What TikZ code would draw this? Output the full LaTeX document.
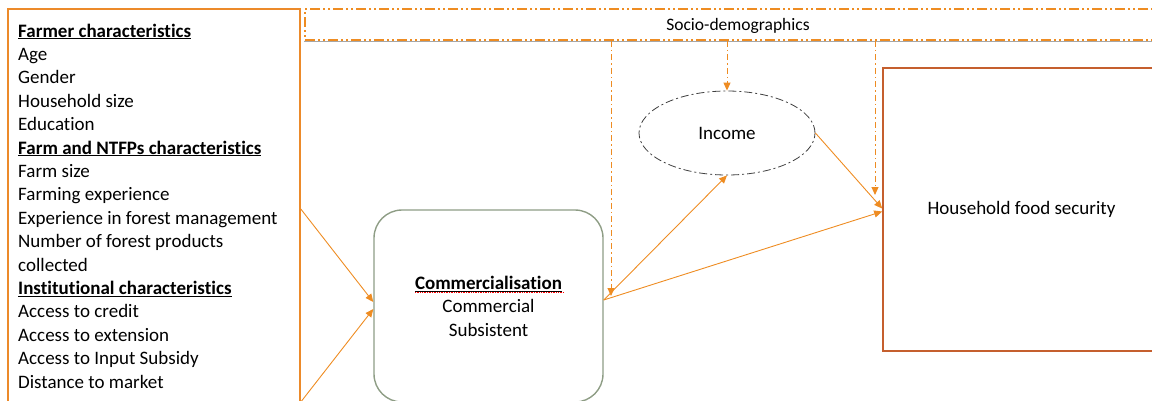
\documentclass[tikz,border=0pt]{standalone}
\usepackage{fontspec}
\setmainfont{Carlito}[Ligatures=NoCommon]
\usetikzlibrary{arrows.meta,shapes.geometric}
\definecolor{lineorange}{HTML}{EE8C22}
\definecolor{boxorange}{HTML}{EC8A2A}
\definecolor{rustred}{HTML}{C55F2E}
\definecolor{sagegray}{HTML}{8E9D85}
\definecolor{inkgray}{HTML}{404040}

\begin{document}
\begin{tikzpicture}[x=1pt, y=-1pt,
    every node/.style={font=\fontsize{19}{23.4}\selectfont, inner sep=0pt},
    link/.style={draw=lineorange, line width=0.9pt, -{Triangle[length=8pt,width=7pt]}},
    moderate/.style={draw=lineorange, line width=1pt, dash pattern=on 6pt off 3pt on 1.5pt off 3pt, -{Triangle[length=8pt,width=7pt]}}]
        \useasboundingbox (0,0) rectangle (1152,400);
        \clip (0,0) rectangle (1152,400);
        \node[draw=boxorange, line width=1.6pt, minimum width=292pt, minimum height=400pt] (farm) at (154,209) {};
        \node[anchor=north west, align=left] (farmlist) at (18,23.5) {\textbf{\underline{Farmer characteristics}}\\Age\\Gender\\Household size\\Education\\\textbf{\underline{Farm and NTFPs characteristics}}\\Farm size\\Farming experience\\Experience in forest management\\Number of forest products\\collected\\\textbf{\underline{Institutional characteristics}}\\Access to credit\\Access to extension\\Access to Input Subsidy\\Distance to market};
        \node[draw=lineorange, line width=1.8pt, dash pattern=on 10pt off 3pt on 2pt off 3pt on 2pt off 3pt, minimum width=866pt, minimum height=31pt, text depth=-2pt, font=\fontsize{17.5}{21}\selectfont] (socio) at (738,24.5) {Socio-demographics};
        \draw[gray!70, line width=0.6pt] (socio.south west) -- (socio.south east);
        \node[draw=sagegray, line width=1.4pt, rounded corners=28pt, minimum width=229pt, minimum height=192pt, align=center] (comm) at (488.5,306) {\textbf{\underline{Commercialisation}}\\Commercial\\Subsistent};
        \draw[red, densely dotted, line width=0.7pt] (415,292) -- (563,292);
        \node[ellipse, draw=inkgray, line width=0.8pt, dash pattern=on 8pt off 3pt on 2pt off 3pt, minimum width=176pt, minimum height=84pt] (inc) at (727,133) {Income};
        \node[draw=rustred, line width=1.6pt, minimum width=277pt, minimum height=283pt] (hfs) at (1021.5,209.5) {\raisebox{-2pt}{Household food security}};

        \coordinate (farmlow) at (300,403);
        \coordinate (cdrop) at (611,296);
        \coordinate (hdrop) at (875,195);

        \draw[link] (farm.east) -- ([yshift=4pt]comm.west);
        \draw[link] (farmlow) -- ([yshift=-3pt]comm.west);
        \draw[link] ([yshift=6pt]comm.east) -- (inc.south);
        \draw[link] ([yshift=6pt]comm.east) -- ([yshift=-2pt]hfs.west);
        \draw[link] (inc.east) -- ([yshift=1pt]hfs.west);
        \draw[moderate] (socio.south -| cdrop) -- (cdrop);
        \draw[moderate] (socio.south -| inc.north) -- (inc.north);
        \draw[moderate] (socio.south -| hdrop) -- (hdrop);
      \end{tikzpicture}
\end{document}
